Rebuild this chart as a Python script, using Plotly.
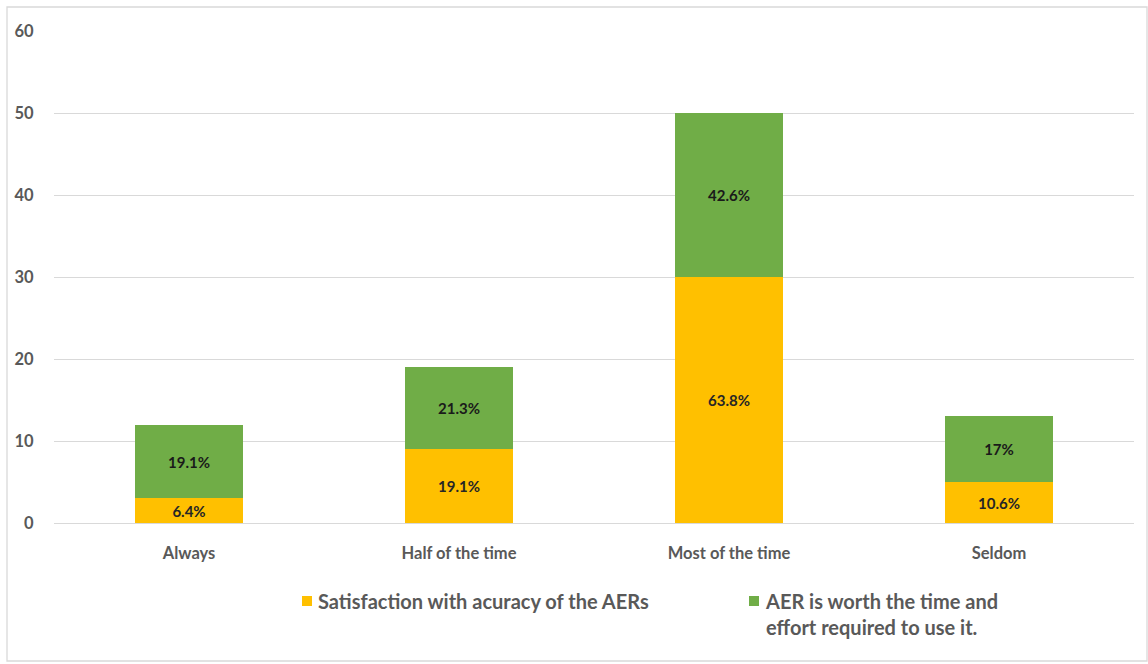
import plotly.graph_objects as go

# Survey responses (n = 47) per frequency category
categories = ["Always", "Half of the time", "Most of the time", "Seldom"]
satisfaction_counts = [3, 9, 30, 5]
worth_counts = [9, 10, 20, 8]
satisfaction_labels = ["6.4%", "19.1%", "63.8%", "10.6%"]
worth_labels = ["19.1%", "21.3%", "42.6%", "17%"]
series_names = ["Satisfaction with acuracy of the AERs",
                "AER is worth the time and<br>effort required to use it."]
y_ticks = [0, 10, 20, 30, 40, 50, 60]

YELLOW = "#FFC000"
GREEN = "#70AD47"
GRAY_TEXT = "#595959"
FONT = "Lato"

fig = go.Figure()
fig.add_trace(go.Bar(
    x=categories, y=satisfaction_counts, name=series_names[0],
    marker=dict(color=YELLOW, line=dict(width=0)),
    text=satisfaction_labels, textposition="inside", insidetextanchor="middle",
    textfont=dict(family=FONT, size=15, color="#262626", weight="bold"),
    textangle=0, width=0.4,
))
fig.add_trace(go.Bar(
    x=categories, y=worth_counts, name=series_names[1],
    marker=dict(color=GREEN, line=dict(width=0)),
    text=worth_labels, textposition="inside", insidetextanchor="middle",
    textfont=dict(family=FONT, size=15, color="#1a1a1a", weight="bold"),
    textangle=0, width=0.4,
))

fig.update_layout(
    barmode="stack",
    width=1148, height=664,
    margin=dict(l=54, r=14, t=31, b=141),
    paper_bgcolor="white", plot_bgcolor="white",
    showlegend=False,
    uniformtext=dict(mode=False),
    font=dict(family=FONT, color=GRAY_TEXT),
    bargap=0.6,
)
fig.update_xaxes(
    showgrid=False, showline=False, zeroline=False,
    ticks="outside", ticklen=15, tickcolor="rgba(0,0,0,0)",
    tickfont=dict(family=FONT, size=16.5, color=GRAY_TEXT, weight="bold"),
)
fig.update_yaxes(
    range=[0, 60], tickvals=y_ticks,
    showgrid=True, gridcolor="#D9D9D9", gridwidth=1.3,
    zeroline=True, zerolinecolor="#D9D9D9", zerolinewidth=1.3,
    showline=False,
    ticks="outside", ticklen=16, tickcolor="rgba(0,0,0,0)",
    tickfont=dict(family=FONT, size=16.5, color=GRAY_TEXT, weight="bold"),
)

# Outer chart frame
fig.add_shape(type="rect", xref="paper", yref="paper",
              x0=-47 / 1080, x1=1093 / 1080, y0=(523 - 661) / 492, y1=(523 - 7) / 492,
              line=dict(color="#D9D9D9", width=1.3), fillcolor="rgba(0,0,0,0)", layer="below")

# Legend drawn below the plot area
def px_x(px):
    return (px - 54) / 1080

def px_y(py):
    return (523 - py) / 492

legend_items = [(302, YELLOW, series_names[0]), (749, GREEN, series_names[1])]
for x_px, color, name in legend_items:
    fig.add_shape(type="rect", xref="paper", yref="paper",
                  x0=px_x(x_px), x1=px_x(x_px + 10), y0=px_y(606), y1=px_y(596),
                  fillcolor=color, line=dict(width=0))
    fig.add_annotation(xref="paper", yref="paper", x=px_x(x_px + 14), y=px_y(587),
                       xanchor="left", yanchor="top", align="left", showarrow=False,
                       text=name,
                       font=dict(family=FONT, size=20, color=GRAY_TEXT, weight="bold"))

fig.write_html("out.html")
